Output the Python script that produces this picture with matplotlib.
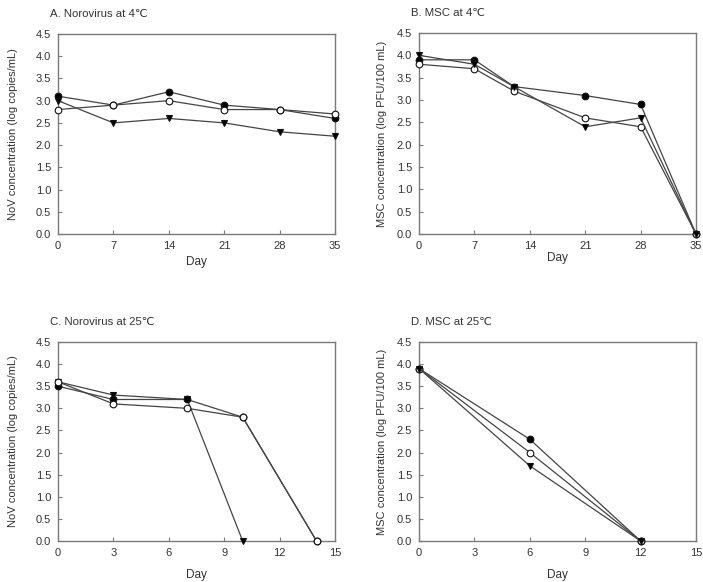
import numpy as np
import matplotlib
matplotlib.use("Agg")
import matplotlib.pyplot as plt

plt.rcParams['font.family'] = ['Liberation Sans', 'DejaVu Sans']

# A. Norovirus at 4C
days_a = [0, 7, 14, 21, 28, 35]
a_filled = [3.1, 2.9, 3.2, 2.9, 2.8, 2.6]
a_open = [2.8, 2.9, 3.0, 2.8, 2.8, 2.7]
a_tri = [3.0, 2.5, 2.6, 2.5, 2.3, 2.2]

# B. MSC at 4C
days_b = [0, 7, 12, 21, 28, 35]
b_filled = [3.9, 3.9, 3.3, 3.1, 2.9, 0.0]
b_open = [3.8, 3.7, 3.2, 2.6, 2.4, 0.0]
b_tri = [4.0, 3.8, 3.3, 2.4, 2.6, 0.0]

# C. Norovirus at 25C
days_c = [0, 3, 7, 10, 14]
c_filled = [3.5, 3.2, 3.2, 2.8, 0.0]
c_open = [3.6, 3.1, 3.0, 2.8, 0.0]
days_c_tri = [0, 3, 7, 10]
c_tri = [3.6, 3.3, 3.2, 0.0]

# D. MSC at 25C
days_d = [0, 6, 12]
d_filled = [3.9, 2.3, 0.0]
d_open = [3.9, 2.0, 0.0]
d_tri = [3.9, 1.7, 0.0]

W, H = 703, 582
fig = plt.figure(figsize=(W / 100, H / 100), dpi=100)

def px_axes(x0, y0, x1, y1):
    return fig.add_axes([x0 / W, 1 - y1 / H, (x1 - x0) / W, (y1 - y0) / H])

line_c = '#444444'
spine_c = '#7a7a7a'
text_c = '#333333'

def draw(ax, series, xticks, title, ylabel, xpad, ypad):
    for x, y, mk, fc in series:
        ax.plot(x, y, color=line_c, lw=0.9, marker=mk, markersize=4.8,
                markerfacecolor=fc, markeredgecolor='#111111', markeredgewidth=0.8,
                clip_on=False, zorder=3)
    ax.set_xlim(xticks[0], xticks[-1])
    ax.set_ylim(0, 4.5)
    ax.set_xticks(xticks)
    ax.set_yticks(np.arange(0, 4.51, 0.5))
    ax.set_yticklabels([f"{v:.1f}" for v in np.arange(0, 4.51, 0.5)])
    ax.tick_params(direction='in', length=3, width=0.8, color=spine_c,
                   labelsize=8, labelcolor=text_c, pad=5)
    for s in ax.spines.values():
        s.set_color(spine_c)
        s.set_linewidth(1.0)
    ax.set_xlabel('Day', fontsize=8.5, color=text_c, labelpad=xpad)
    ax.set_ylabel(ylabel, fontsize=8, color=text_c, labelpad=ypad)
    ax.set_title(title, fontsize=8.2, color=text_c, loc='left', x=-0.03, pad=12)

ax_a = px_axes(58, 34, 335, 234)
draw(ax_a, [(days_a, a_filled, 'o', 'black'), (days_a, a_open, 'o', 'white'),
            (days_a, a_tri, 'v', 'black')],
     [0, 7, 14, 21, 28, 35], 'A. Norovirus at 4\u2103',
     'NoV concentration (log copies/mL)', 4, 13)

ax_b = px_axes(419, 33, 696, 234)
draw(ax_b, [(days_b, b_filled, 'o', 'black'), (days_b, b_open, 'o', 'white'),
            (days_b, b_tri, 'v', 'black')],
     [0, 7, 14, 21, 28, 35], 'B. MSC at 4\u2103',
     'MSC concentration (log PFU/100 mL)', 1, 7)

ax_c = px_axes(58, 342, 335, 541)
draw(ax_c, [(days_c_tri, c_tri, 'v', 'black'), (days_c, c_filled, 'o', 'black'),
            (days_c, c_open, 'o', 'white')],
     [0, 3, 6, 9, 12, 15], 'C. Norovirus at 25\u2103',
     'NoV concentration (log copies/mL)', 8, 13)

ax_d = px_axes(419, 342, 696, 541)
draw(ax_d, [(days_d, d_filled, 'o', 'black'), (days_d, d_open, 'o', 'white'),
            (days_d, d_tri, 'v', 'black')],
     [0, 3, 6, 9, 12, 15], 'D. MSC at 25\u2103',
     'MSC concentration (log PFU/100 mL)', 8, 7)

fig.savefig('out.png', dpi=100)
